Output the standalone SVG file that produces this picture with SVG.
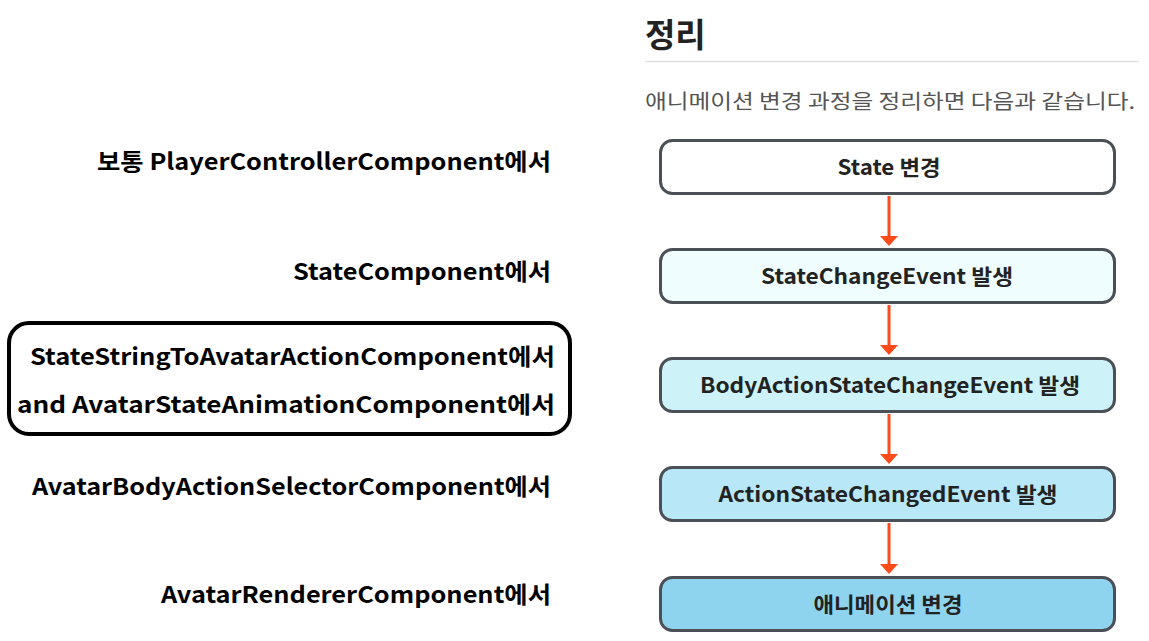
<svg xmlns="http://www.w3.org/2000/svg" width="1149" height="641" viewBox="0 0 1149 641">
<style>
.lbl{font-family:"Noto Sans CJK KR","Noto Sans",sans-serif;font-weight:700;font-size:23px;fill:#000;text-anchor:end}
.box{stroke:#4a5055;stroke-width:3}
.bt{font-family:"Noto Sans CJK KR","Noto Sans",sans-serif;font-weight:700;font-size:21px;fill:#222;text-anchor:middle}
.arr{stroke:#ff4a1a;stroke-width:3;fill:none}
.ah{fill:#ff4a1a}
</style>
<rect width="1149" height="641" fill="#fff"/>
<g id="header">
<text x="645" y="47" font-family="'Noto Sans CJK KR',sans-serif" font-weight="700" font-size="33" fill="#222">정리</text>
<line x1="645" y1="61.5" x2="1139" y2="61.5" stroke="#e0e0e0" stroke-width="1.5"/>
<text x="645" y="109" font-family="'Noto Sans CJK KR',sans-serif" font-size="20" fill="#555" textLength="490" lengthAdjust="spacingAndGlyphs">애니메이션 변경 과정을 정리하면 다음과 같습니다.</text>
</g>
<g id="labels">
<text class="lbl" x="551" y="170" textLength="454" lengthAdjust="spacingAndGlyphs">보통 PlayerControllerComponent에서</text>
<text class="lbl" x="551" y="280" textLength="258" lengthAdjust="spacingAndGlyphs">StateComponent에서</text>
<g id="highlight">
<rect x="9" y="323" width="561" height="111" rx="20" fill="none" stroke="#000" stroke-width="4"/>
<text class="lbl" x="555" y="365" textLength="525" lengthAdjust="spacingAndGlyphs">StateStringToAvatarActionComponent에서</text>
<text class="lbl" x="555" y="413" textLength="538" lengthAdjust="spacingAndGlyphs">and AvatarStateAnimationComponent에서</text>
</g>
<text class="lbl" x="551" y="495" textLength="519" lengthAdjust="spacingAndGlyphs">AvatarBodyActionSelectorComponent에서</text>
<text class="lbl" x="551" y="603" textLength="390" lengthAdjust="spacingAndGlyphs">AvatarRendererComponent에서</text>
</g>
<g id="n1"><rect class="box" x="660.5" y="140.5" width="454" height="53" rx="12" fill="#ffffff"/><text class="bt" x="889" y="175" textLength="103" lengthAdjust="spacingAndGlyphs">State 변경</text></g>
<g id="n2"><rect class="box" x="660.5" y="249.5" width="454" height="53" rx="12" fill="#effdfe"/><text class="bt" x="887" y="284" textLength="252" lengthAdjust="spacingAndGlyphs">StateChangeEvent 발생</text></g>
<g id="n3"><rect class="box" x="660.5" y="358.5" width="454" height="53" rx="12" fill="#cdf3f8"/><text class="bt" x="890" y="393" textLength="380" lengthAdjust="spacingAndGlyphs">BodyActionStateChangeEvent 발생</text></g>
<g id="n4"><rect class="box" x="660.5" y="467.5" width="454" height="53" rx="12" fill="#b8e8f8"/><text class="bt" x="888" y="502" textLength="339" lengthAdjust="spacingAndGlyphs">ActionStateChangedEvent 발생</text></g>
<g id="n5"><rect class="box" x="660.5" y="577.5" width="454" height="53" rx="12" fill="#8fd4ee"/><text class="bt" x="888" y="612" textLength="149" lengthAdjust="spacingAndGlyphs">애니메이션 변경</text></g>
<g id="connectors">
<line class="arr" x1="889" y1="196" x2="889" y2="237"/><polygon class="ah" points="880,236 898,236 889,246"/>
<line class="arr" x1="889" y1="305" x2="889" y2="346"/><polygon class="ah" points="880,345 898,345 889,355"/>
<line class="arr" x1="889" y1="414" x2="889" y2="455"/><polygon class="ah" points="880,454 898,454 889,464"/>
<line class="arr" x1="889" y1="523" x2="889" y2="565"/><polygon class="ah" points="880,564 898,564 889,574"/>
</g>
</svg>
